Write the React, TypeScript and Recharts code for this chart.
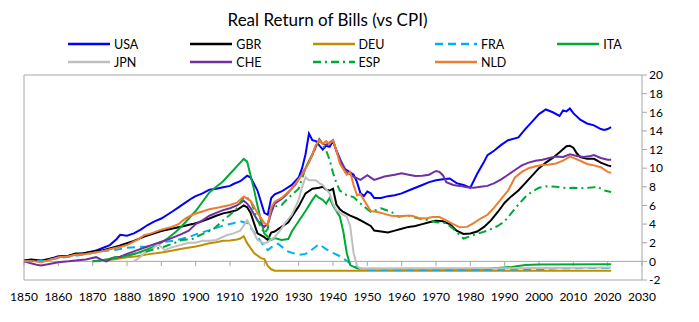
import { LineChart, Line, XAxis, YAxis, ReferenceLine, ReferenceArea } from 'recharts';

const xTicks = [1850, 1860, 1870, 1880, 1890, 1900, 1910, 1920, 1930, 1940, 1950, 1960, 1970, 1980, 1990, 2000, 2010, 2020, 2030];
const yTicks = [-2, 0, 2, 4, 6, 8, 10, 12, 14, 16, 18, 20];

type Pt = [number, number];

const USA: Pt[] = [
  [1850, 0], [1853, 0.1], [1856, 0.05], [1858, 0.3], [1860, 0.55], [1863, 0.6], [1865, 0.7], [1868, 0.9], [1870, 1.05],
  [1872, 1.3], [1875, 1.75], [1877, 2.4], [1878, 2.85], [1880, 2.75], [1882, 3.0], [1884, 3.4], [1886, 3.9], [1888, 4.3],
  [1890, 4.6], [1893, 5.3], [1895, 5.8], [1897, 6.3], [1899, 6.8], [1900, 7.0], [1902, 7.3], [1904, 7.7], [1906, 7.8],
  [1908, 7.95], [1910, 8.1], [1911, 8.3], [1913, 8.6], [1915, 9.2], [1916, 9.0], [1918, 7.6], [1920, 5.2], [1921, 5.0],
  [1922, 6.8], [1923, 7.2], [1925, 7.5], [1928, 8.2], [1930, 9.0], [1931, 10.0], [1932, 11.5], [1933, 13.7], [1934, 13.0],
  [1935, 12.9], [1937, 12.0], [1938, 12.4], [1939, 12.3], [1940, 12.9], [1941, 11.9], [1942, 11.0], [1943, 10.0],
  [1944, 9.8], [1946, 9.3], [1947, 8.5], [1948, 7.3], [1949, 7.0], [1950, 7.5], [1951, 7.3], [1952, 6.8], [1954, 6.8],
  [1956, 7.0], [1958, 7.1], [1960, 7.3], [1962, 7.6], [1964, 7.9], [1966, 8.2], [1968, 8.5], [1970, 8.7], [1972, 8.8],
  [1974, 8.9], [1976, 8.4], [1978, 8.2], [1980, 7.9], [1982, 9.4], [1984, 10.7], [1985, 11.4], [1987, 11.9], [1989, 12.5],
  [1991, 13.0], [1994, 13.3], [1996, 14.2], [1998, 15.0], [2000, 15.8], [2002, 16.3], [2004, 16.0], [2006, 15.6],
  [2007, 16.2], [2008, 16.1], [2009, 16.4], [2010, 15.9], [2012, 15.2], [2014, 14.8], [2016, 14.6], [2018, 14.2],
  [2019, 14.1], [2020, 14.2], [2021, 14.4],
];

const GBR: Pt[] = [
  [1850, 0.1], [1852, 0.2], [1855, 0.1], [1858, 0.3], [1860, 0.45], [1863, 0.6], [1865, 0.85], [1867, 0.85], [1870, 1.05],
  [1873, 1.2], [1876, 1.5], [1878, 1.7], [1880, 1.95], [1882, 2.2], [1885, 2.65], [1888, 3.0], [1890, 3.25], [1893, 3.5],
  [1896, 3.75], [1899, 4.0], [1901, 4.2], [1904, 4.6], [1906, 4.9], [1908, 5.15], [1910, 5.3], [1912, 5.5], [1914, 6.0],
  [1915, 5.8], [1916, 5.2], [1918, 3.0], [1920, 2.6], [1921, 2.3], [1922, 3.1], [1923, 3.2], [1925, 3.7], [1927, 4.2],
  [1928, 4.8], [1930, 5.9], [1931, 6.6], [1932, 7.3], [1934, 7.8], [1936, 7.9], [1937, 8.0], [1938, 7.7], [1939, 7.6],
  [1940, 7.8], [1941, 6.1], [1942, 5.6], [1943, 5.3], [1945, 4.9], [1947, 4.6], [1949, 4.2], [1950, 4.0], [1951, 3.8],
  [1952, 3.3], [1954, 3.2], [1956, 3.1], [1958, 3.3], [1960, 3.5], [1962, 3.7], [1964, 3.8], [1966, 4.0], [1968, 4.2],
  [1970, 4.35], [1972, 4.3], [1974, 4.0], [1976, 3.3], [1978, 2.95], [1980, 3.0], [1982, 3.2], [1984, 3.7], [1986, 4.4],
  [1988, 5.3], [1990, 6.3], [1992, 7.0], [1994, 7.6], [1996, 8.4], [1998, 9.2], [2000, 10.0], [2002, 10.6], [2004, 11.1],
  [2006, 11.7], [2008, 12.35], [2009, 12.4], [2010, 12.2], [2011, 11.6], [2012, 11.2], [2014, 11.0], [2016, 11.0],
  [2018, 10.6], [2020, 10.3], [2021, 10.2],
];

const DEU: Pt[] = [
  [1871, 0], [1873, 0.15], [1876, 0.2], [1880, 0.45], [1883, 0.55], [1886, 0.75], [1890, 0.95], [1893, 1.15], [1896, 1.35],
  [1900, 1.6], [1902, 1.75], [1904, 1.95], [1906, 2.05], [1908, 2.2], [1910, 2.25], [1912, 2.35], [1913, 2.45], [1914, 2.7],
  [1915, 1.95], [1917, 0.9], [1919, 0.35], [1920, 0.25], [1921, -0.5], [1922, -0.85], [1923, -1.0], [1960, -1.0], [2021, -1.0],
];

const FRA: Pt[] = [
  [1850, 0], [1853, 0.05], [1856, 0.1], [1860, 0.35], [1865, 0.6], [1870, 0.9], [1873, 1.1], [1876, 1.2], [1880, 1.45],
  [1883, 1.55], [1886, 1.6], [1890, 2.05], [1894, 2.25], [1898, 2.6], [1900, 2.9], [1904, 3.35], [1908, 3.85], [1911, 4.1],
  [1913, 4.3], [1915, 4.1], [1918, 2.65], [1920, 1.6], [1921, 1.2], [1922, 1.5], [1924, 1.9], [1926, 1.3], [1927, 1.05],
  [1930, 0.7], [1932, 0.8], [1934, 1.3], [1936, 1.85], [1938, 1.3], [1940, 0.9], [1942, 0.55], [1944, 0.05], [1946, -0.5],
  [1948, -0.8], [1950, -0.9], [1985, -0.9], [2000, -0.85], [2005, -0.75], [2021, -0.7],
];

const ITA: Pt[] = [
  [1870, 0], [1872, 0.1], [1874, 0.2], [1877, 0.4], [1880, 0.6], [1883, 0.9], [1886, 1.3], [1888, 1.6], [1890, 2.0],
  [1892, 2.5], [1894, 3.1], [1896, 3.8], [1898, 4.6], [1900, 5.4], [1902, 6.4], [1904, 7.4], [1906, 8.0], [1908, 8.6],
  [1910, 9.4], [1912, 10.2], [1914, 11.0], [1915, 10.7], [1916, 9.2], [1917, 7.7], [1918, 6.0], [1919, 4.4], [1920, 3.0],
  [1922, 2.3], [1923, 2.5], [1925, 2.3], [1927, 2.4], [1928, 3.2], [1930, 4.3], [1932, 5.4], [1934, 6.6], [1935, 7.1],
  [1936, 6.8], [1937, 6.6], [1938, 6.2], [1939, 6.8], [1940, 6.0], [1942, 4.8], [1943, 3.2], [1944, 0.9], [1945, -0.4],
  [1947, -0.75], [1948, -0.8], [1985, -0.8], [1988, -0.7], [1992, -0.6], [1996, -0.4], [2000, -0.33], [2021, -0.3],
];

const JPN: Pt[] = [
  [1882, 0], [1884, 0.5], [1885, 0.9], [1887, 1.2], [1889, 1.85], [1891, 1.2], [1893, 1.5], [1896, 1.8], [1898, 2.0],
  [1900, 2.0], [1902, 2.2], [1904, 2.2], [1906, 2.3], [1909, 2.8], [1911, 3.0], [1913, 3.3], [1915, 4.4], [1916, 3.8],
  [1918, 2.3], [1920, 1.9], [1921, 2.1], [1923, 2.6], [1925, 3.5], [1926, 4.1], [1928, 5.0], [1930, 6.6], [1931, 8.0],
  [1932, 9.0], [1933, 8.7], [1935, 8.7], [1936, 8.4], [1937, 8.2], [1939, 7.3], [1940, 6.2], [1941, 5.5], [1943, 5.0],
  [1944, 4.8], [1945, 3.8], [1946, 0.9], [1947, -0.5], [1948, -0.8], [1990, -0.75], [2021, -0.65],
];

const CHE: Pt[] = [
  [1850, 0], [1852, -0.2], [1854, -0.4], [1855, -0.45], [1857, -0.3], [1860, -0.1], [1863, 0.0], [1865, 0.1], [1868, 0.2],
  [1871, 0.45], [1873, 0.1], [1874, 0.0], [1876, 0.4], [1878, 0.5], [1880, 0.8], [1883, 1.2], [1886, 1.6], [1888, 1.85],
  [1890, 2.1], [1893, 2.5], [1896, 2.95], [1898, 3.3], [1900, 4.0], [1902, 4.4], [1904, 4.9], [1906, 5.2], [1908, 5.5],
  [1910, 5.7], [1912, 6.0], [1914, 6.5], [1915, 6.2], [1916, 5.7], [1918, 4.4], [1920, 3.7], [1921, 4.0], [1922, 5.2],
  [1923, 6.2], [1925, 6.7], [1926, 7.0], [1929, 8.2], [1932, 10.0], [1934, 11.5], [1935, 12.3], [1936, 13.1], [1937, 12.6],
  [1938, 12.5], [1940, 13.0], [1941, 11.8], [1942, 11.0], [1944, 9.6], [1946, 9.1], [1948, 8.75], [1950, 9.25], [1952, 8.75],
  [1955, 9.1], [1958, 9.3], [1960, 9.45], [1962, 9.3], [1964, 9.15], [1966, 9.2], [1968, 9.3], [1970, 9.7], [1971, 9.6],
  [1972, 9.25], [1973, 8.5], [1975, 8.2], [1977, 8.1], [1979, 7.95], [1981, 7.9], [1983, 8.0], [1985, 8.1], [1987, 8.4],
  [1989, 8.8], [1991, 9.3], [1993, 9.8], [1995, 10.3], [1997, 10.6], [1999, 10.8], [2001, 10.9], [2003, 11.1], [2005, 11.25],
  [2007, 11.2], [2009, 11.5], [2011, 11.3], [2013, 11.2], [2015, 11.3], [2016, 11.4], [2018, 11.1], [2020, 10.9], [2021, 10.9],
];

const ESP: Pt[] = [
  [1870, 0], [1873, 0.1], [1876, 0.4], [1880, 0.6], [1883, 0.9], [1886, 1.1], [1889, 1.4], [1891, 1.6], [1894, 2.0],
  [1896, 2.3], [1899, 2.4], [1900, 2.6], [1903, 3.1], [1905, 3.4], [1908, 4.4], [1910, 5.0], [1912, 5.7], [1914, 6.9],
  [1915, 6.8], [1916, 6.6], [1918, 4.4], [1920, 3.0], [1921, 3.5], [1922, 5.8], [1925, 6.05], [1927, 6.8], [1930, 7.8],
  [1932, 10.0], [1934, 11.4], [1936, 13.0], [1938, 11.9], [1939, 10.9], [1940, 9.5], [1941, 8.4], [1942, 7.6], [1944, 7.1],
  [1946, 6.9], [1948, 6.2], [1950, 5.6], [1951, 5.3], [1954, 5.7], [1957, 5.3], [1959, 4.8], [1962, 4.9], [1965, 4.6],
  [1968, 4.4], [1970, 4.2], [1973, 4.1], [1975, 3.5], [1977, 2.8], [1978, 2.45], [1980, 2.7], [1982, 2.95], [1985, 3.3],
  [1988, 3.8], [1990, 4.3], [1992, 5.2], [1994, 6.1], [1996, 6.9], [1998, 7.5], [2000, 7.9], [2002, 8.05], [2005, 8.0],
  [2008, 7.85], [2010, 7.9], [2013, 7.85], [2016, 7.95], [2017, 8.0], [2019, 7.6], [2021, 7.45],
];

const NLD: Pt[] = [
  [1850, 0], [1853, 0.0], [1855, -0.1], [1858, 0.2], [1860, 0.45], [1863, 0.55], [1865, 0.7], [1868, 0.8], [1870, 0.9],
  [1873, 1.1], [1875, 1.3], [1878, 1.55], [1880, 1.75], [1883, 2.3], [1885, 2.8], [1887, 3.0], [1890, 3.4], [1893, 3.7],
  [1895, 4.0], [1897, 4.6], [1899, 5.0], [1901, 5.25], [1904, 5.6], [1907, 5.8], [1910, 6.05], [1912, 6.3], [1914, 6.95],
  [1916, 6.5], [1918, 5.2], [1920, 4.1], [1921, 3.9], [1922, 5.8], [1923, 6.4], [1925, 6.8], [1928, 7.8], [1931, 9.3],
  [1933, 10.6], [1934, 11.5], [1935, 12.5], [1936, 13.0], [1937, 12.6], [1938, 12.9], [1939, 12.6], [1940, 13.0],
  [1941, 11.9], [1942, 10.5], [1943, 9.9], [1944, 9.3], [1945, 9.6], [1946, 8.2], [1947, 7.1], [1948, 7.2], [1949, 6.6],
  [1950, 6.0], [1951, 5.4], [1953, 5.3], [1955, 5.1], [1957, 4.9], [1959, 4.85], [1961, 4.9], [1963, 4.9], [1965, 4.65],
  [1967, 4.6], [1969, 4.75], [1971, 4.75], [1973, 4.4], [1975, 4.0], [1977, 3.65], [1979, 3.7], [1981, 4.1], [1983, 4.6],
  [1985, 5.0], [1987, 5.8], [1989, 6.7], [1991, 7.6], [1993, 9.0], [1995, 9.6], [1997, 10.0], [1999, 10.2], [2001, 10.35],
  [2003, 10.4], [2005, 10.5], [2007, 10.8], [2009, 11.25], [2010, 11.1], [2012, 10.8], [2014, 10.45], [2016, 10.3],
  [2018, 10.1], [2020, 9.6], [2021, 9.5],
];

const series = [
  { name: 'USA', data: USA, color: '#0000FF', dash: undefined },
  { name: 'GBR', data: GBR, color: '#000000', dash: undefined },
  { name: 'DEU', data: DEU, color: '#BF8F00', dash: undefined },
  { name: 'FRA', data: FRA, color: '#00B0F0', dash: '8 5' },
  { name: 'ITA', data: ITA, color: '#00A933', dash: undefined },
  { name: 'JPN', data: JPN, color: '#BFBFBF', dash: undefined },
  { name: 'CHE', data: CHE, color: '#7030A0', dash: undefined },
  { name: 'ESP', data: ESP, color: '#00A933', dash: '8 4 2 4' },
  { name: 'NLD', data: NLD, color: '#ED7D31', dash: undefined },
];

const toRows = (pts: Pt[]) => pts.map(([year, v]) => ({ year, v }));

const FONT = 'Lato, "Liberation Sans", sans-serif';
const AXIS_GRAY = '#A6A6A6';

function LegendGrid() {
  return (
    <div style={{ position: 'absolute', left: 68, top: 36, width: 620, display: 'flex', flexWrap: 'wrap', rowGap: 2 }}>
      {series.map((s) => (
        <div key={s.name} style={{ width: 122.3, height: 16, display: 'flex', alignItems: 'center' }}>
          <svg width={42} height={6} style={{ marginRight: 4 }}>
            <line x1={0} y1={3} x2={42} y2={3} stroke={s.color} strokeWidth={2.5} strokeDasharray={s.dash} />
          </svg>
          <span style={{ fontFamily: FONT, fontSize: 12.5, color: '#000' }}>{s.name}</span>
        </div>
      ))}
    </div>
  );
}

export default function App() {
  return (
    <div style={{ position: 'absolute', left: 0, top: 0, width: 699, height: 322, background: '#fff' }}>
      <div style={{ position: 'absolute', left: 0, top: 9, width: 655, textAlign: 'center', fontFamily: FONT, fontSize: 17, color: '#000' }}>
        Real Return of Bills (vs CPI)
      </div>
      <LegendGrid />
      <LineChart width={699} height={322} margin={{ top: 75, right: 17, bottom: 12, left: 24 }}>
        <XAxis
          dataKey="year"
          type="number"
          domain={[1850, 2030]}
          ticks={xTicks}
          interval={0}
          allowDuplicatedCategory={false}
          axisLine={false}
          tickLine={false}
          height={30}
          tickMargin={6}
          tick={{ fontFamily: FONT, fontSize: 12, fill: '#000' }}
        />
        <YAxis
          orientation="right"
          type="number"
          domain={[-2, 20]}
          ticks={yTicks}
          interval={0}
          width={40}
          axisLine={false}
          tickLine={{ stroke: AXIS_GRAY }}
          tickSize={5}
          tickMargin={2}
          tick={{ fontFamily: FONT, fontSize: 12, fill: '#000', textAnchor: 'start' }}
        />
        <ReferenceArea x1={1850} x2={2030} y1={-2} y2={20} fill="none" stroke={AXIS_GRAY} strokeWidth={1} />
        <ReferenceLine y={0} stroke={AXIS_GRAY} strokeWidth={1} />
        {xTicks.map((yr) => (
          <ReferenceLine key={yr} segment={[{ x: yr, y: 0 }, { x: yr, y: -0.5 }]} stroke={AXIS_GRAY} strokeWidth={1} />
        ))}
        {series.map((s) => (
          <Line
            key={s.name}
            data={toRows(s.data)}
            dataKey="v"
            name={s.name}
            type="linear"
            stroke={s.color}
            strokeWidth={2}
            strokeDasharray={s.dash}
            dot={false}
            isAnimationActive={false}
          />
        ))}
      </LineChart>
    </div>
  );
}
